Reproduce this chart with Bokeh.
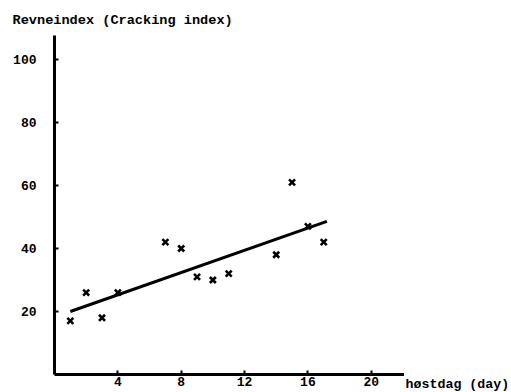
from bokeh.plotting import figure
from bokeh.models import Range1d, FixedTicker, Title
from bokeh.layouts import row
from bokeh.embed import file_html
from bokeh.resources import INLINE

# data
day = [1, 2, 3, 4, 7, 8, 9, 10, 11, 14, 15, 16, 17]
cracking = [17, 26, 18, 26, 42, 40, 31, 30, 32, 38, 61, 47, 42]
fit_x = [1.0, 17.2]
fit_y = [20.0, 48.6]
x_ticks = [4, 8, 12, 16, 20]
y_ticks = [20, 40, 60, 80, 100]
y_title = "Revneindex (Cracking index)"
x_title = "høstdag (day)"

FONT = "Liberation Mono"

p = figure(
    frame_width=350, frame_height=339,
    min_border_left=54, min_border_right=0, min_border_top=35, min_border_bottom=18,
    x_range=Range1d(0, 22.1), y_range=Range1d(0, 107.6),
    output_backend="svg", toolbar_location=None,
)
p.outline_line_color = None
p.grid.visible = False

t = Title(text=y_title, align="left", offset=-42, standoff=16,
          text_font=FONT, text_font_style="bold", text_font_size="13.6px", text_color="black")
p.add_layout(t, "above")

for ax in (p.xaxis[0], p.yaxis[0]):
    ax.axis_line_width = 3
    ax.axis_line_color = "black"
    ax.major_tick_in = 4
    ax.major_tick_out = 0
    ax.major_tick_line_width = 2
    ax.minor_tick_line_color = None
    ax.major_label_text_font = FONT
    ax.major_label_text_font_style = "bold"
    ax.major_label_text_font_size = "13px"
    ax.major_label_text_color = "black"

p.xaxis.ticker = FixedTicker(ticks=x_ticks)
p.yaxis.ticker = FixedTicker(ticks=y_ticks)
p.xaxis.major_label_standoff = 2
p.yaxis.major_label_standoff = 18

p.line(fit_x, fit_y, line_width=3, line_color="black")
p.scatter(day, cracking, marker="x", size=8.5, line_width=2.6, line_color="black")

# side figure whose bottom panel carries the x-axis title, right of the axis end
q = figure(
    width=107, height=392, min_border=0,
    x_axis_location=None, y_axis_location=None,
    x_range=Range1d(0, 1), y_range=Range1d(0, 1),
    output_backend="svg", toolbar_location=None,
)
q.grid.visible = False
q.outline_line_color = None
q.title = None
xt = Title(text=x_title, align="left", offset=1, standoff=0,
           text_font=FONT, text_font_style="bold", text_font_size="13.3px", text_color="black")
q.add_layout(xt, "below")

layout = row(p, q, spacing=0)
open("out.html", "w").write(file_html(layout, INLINE))
